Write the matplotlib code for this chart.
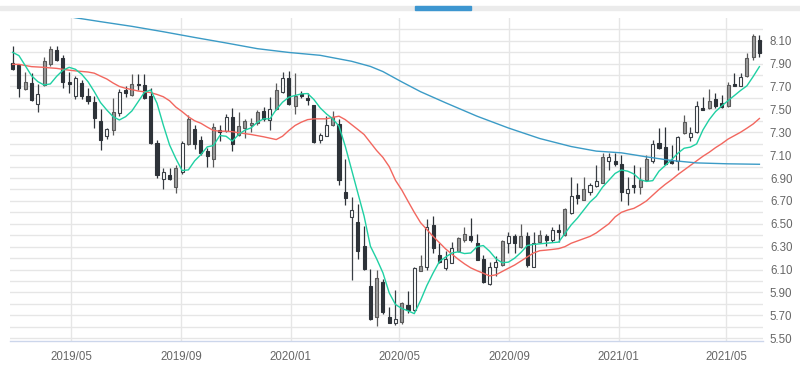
import matplotlib
matplotlib.use('Agg')
import matplotlib.pyplot as plt
import matplotlib.dates as mdates
from matplotlib.patches import Rectangle
from matplotlib.ticker import FuncFormatter
import numpy as np
import pandas as pd

plt.rcParams['font.family'] = ['Liberation Sans', 'DejaVu Sans']

# Weekly candles, first week starting 2019-02-25
first_week = '2019-02-25'

opens = [7.905, 7.89, 7.675, 7.73, 7.545, 7.71, 7.90, 8.015, 7.945, 7.74,
         7.615, 7.73, 7.615, 7.56, 7.40, 7.27, 7.32, 7.465, 7.67, 7.625,
         7.725, 7.715, 7.62, 7.205, 6.89, 6.925, 6.825, 6.95, 7.195, 7.33,
         7.235, 7.14, 7.065, 7.32, 7.31, 7.435, 7.28, 7.34, 7.365, 7.38,
         7.485, 7.41, 7.505, 7.65, 7.77, 7.525, 7.635, 7.60, 7.535, 7.23,
         7.27, 7.36, 7.375, 6.775, 6.56, 6.515, 6.305, 5.96, 5.69, 5.99,
         5.69, 5.63, 5.645, 5.79, 5.75, 6.085, 6.12, 6.49, 6.23, 6.11,
         6.16, 6.265, 6.355, 6.39, 6.33, 6.19, 5.975, 6.12, 6.14, 6.335,
         6.395, 6.295, 6.395, 6.12, 6.345, 6.395, 6.355, 6.445, 6.405, 6.59,
         6.75, 6.71, 6.78, 6.83, 6.86, 7.045, 7.045, 7.02, 6.77, 6.835,
         6.825, 6.885, 7.045, 7.21, 7.17, 7.05, 7.045, 7.295, 7.26, 7.305,
         7.51, 7.51, 7.59, 7.555, 7.525, 7.725, 7.705, 7.79, 7.955, 8.105]
highs = [8.05, 7.90, 7.83, 7.815, 7.72, 7.96, 8.05, 8.05, 7.975, 7.83,
         7.79, 7.755, 7.685, 7.615, 7.50, 7.34, 7.595, 7.675, 7.70, 7.805,
         7.805, 7.805, 7.685, 7.23, 6.99, 6.99, 7.015, 7.225, 7.45, 7.36,
         7.27, 7.165, 7.38, 7.365, 7.455, 7.51, 7.475, 7.415, 7.425, 7.49,
         7.52, 7.61, 7.73, 7.825, 7.835, 7.82, 7.66, 7.645, 7.54, 7.29,
         7.44, 7.485, 7.415, 7.065, 6.735, 6.67, 6.48, 6.105, 6.095, 6.015,
         5.775, 5.925, 5.82, 5.91, 6.12, 6.23, 6.54, 6.57, 6.335, 6.265,
         6.345, 6.385, 6.475, 6.55, 6.41, 6.23, 6.17, 6.215, 6.36, 6.425,
         6.41, 6.50, 6.425, 6.43, 6.45, 6.41, 6.475, 6.50, 6.635, 6.905,
         6.855, 6.91, 6.86, 7.01, 7.12, 7.12, 7.12, 7.10, 6.91, 7.01,
         7.00, 7.10, 7.23, 7.335, 7.35, 7.19, 7.265, 7.45, 7.35, 7.575,
         7.61, 7.675, 7.64, 7.625, 7.735, 7.82, 7.815, 7.995, 8.16, 8.15]
lows = [7.84, 7.61, 7.67, 7.57, 7.48, 7.705, 7.88, 7.925, 7.685, 7.64,
        7.59, 7.59, 7.545, 7.335, 7.145, 7.245, 7.275, 7.44, 7.61, 7.615,
        7.67, 7.59, 7.20, 6.90, 6.805, 6.88, 6.765, 6.935, 7.19, 7.15,
        7.10, 7.00, 7.00, 7.22, 7.30, 7.135, 7.27, 7.25, 7.30, 7.365,
        7.395, 7.32, 7.49, 7.64, 7.54, 7.46, 7.60, 7.54, 7.21, 7.21,
        7.265, 7.355, 6.835, 6.665, 6.01, 6.19, 6.10, 5.66, 5.61, 5.715,
        5.63, 5.62, 5.625, 5.725, 5.74, 6.085, 6.10, 6.245, 6.16, 6.10,
        6.155, 6.255, 6.345, 6.345, 6.18, 5.98, 5.965, 6.04, 6.135, 6.245,
        6.245, 6.285, 6.125, 6.12, 6.33, 6.305, 6.345, 6.345, 6.395, 6.585,
        6.675, 6.71, 6.75, 6.825, 6.855, 6.97, 7.005, 6.70, 6.66, 6.765,
        6.76, 6.875, 7.035, 7.15, 7.015, 7.02, 6.97, 7.285, 7.225, 7.295,
        7.49, 7.50, 7.515, 7.51, 7.52, 7.705, 7.70, 7.78, 7.935, 7.96]
closes = [7.85, 7.69, 7.74, 7.58, 7.635, 7.92, 8.025, 7.93, 7.74, 7.725,
          7.77, 7.62, 7.575, 7.42, 7.23, 7.325, 7.48, 7.655, 7.645, 7.725,
          7.71, 7.595, 7.205, 6.925, 6.95, 6.89, 6.99, 7.21, 7.415, 7.20,
          7.115, 7.09, 7.345, 7.305, 7.435, 7.195, 7.355, 7.395, 7.38, 7.475,
          7.415, 7.505, 7.665, 7.775, 7.55, 7.615, 7.615, 7.585, 7.215, 7.28,
          7.36, 7.435, 6.88, 6.725, 6.62, 6.26, 6.105, 5.665, 6.03, 5.73,
          5.635, 5.665, 5.81, 5.75, 6.11, 6.13, 6.475, 6.285, 6.17, 6.19,
          6.285, 6.375, 6.41, 6.355, 6.185, 5.995, 6.12, 6.17, 6.35, 6.395,
          6.335, 6.395, 6.14, 6.33, 6.405, 6.355, 6.45, 6.425, 6.625, 6.74,
          6.725, 6.80, 6.84, 6.87, 7.085, 7.08, 7.025, 6.78, 6.80, 6.82,
          6.885, 7.065, 7.195, 7.16, 7.025, 7.03, 7.26, 7.39, 7.29, 7.53,
          7.49, 7.575, 7.525, 7.52, 7.715, 7.705, 7.785, 7.945, 8.14, 7.99]

# rising weeks drawn hollow (1-based week numbers); other rising weeks are grey
hollow_weeks = [5, 11, 16, 18, 25, 28, 35, 42, 44, 50, 51, 55, 62, 65, 67, 70,
                71, 77, 78, 80, 84, 87, 90, 93, 94, 96, 99, 103, 107, 109, 110, 117]

# moving averages
ma_short = [7.998, 7.969, 7.882, 7.794, 7.742, 7.713, 7.722, 7.788, 7.841, 7.867,
            7.85, 7.806, 7.742, 7.655, 7.559, 7.494, 7.436, 7.407, 7.436, 7.486,
            7.567, 7.649, 7.669, 7.553, 7.363, 7.189, 7.07, 6.965, 6.971, 7.05,
            7.105, 7.172, 7.184, 7.271, 7.265, 7.222, 7.28, 7.318, 7.338, 7.388,
            7.417, 7.417, 7.498, 7.562, 7.606, 7.621, 7.635, 7.638, 7.586, 7.513,
            7.46, 7.417, 7.353, 7.178, 6.974, 6.77, 6.567, 6.305, 6.194, 6.072,
            5.897, 5.795, 5.76, 5.74, 5.715, 5.83, 5.96, 6.07, 6.17, 6.21,
            6.245, 6.255, 6.24, 6.245, 6.30, 6.31, 6.26, 6.195, 6.16, 6.165,
            6.20, 6.25, 6.31, 6.32, 6.325, 6.33, 6.335, 6.34, 6.415, 6.49,
            6.55, 6.62, 6.69, 6.74, 6.82, 6.88, 6.94, 6.97, 6.96, 6.935,
            6.885, 6.87, 6.877, 6.96, 7.01, 7.06, 7.116, 7.16, 7.17, 7.198,
            7.32, 7.41, 7.48, 7.53, 7.576, 7.62, 7.665, 7.705, 7.786, 7.873]
ma_mid = [7.893, 7.893, 7.883, 7.873, 7.87, 7.867, 7.862, 7.858, 7.85, 7.842,
          7.836, 7.831, 7.826, 7.816, 7.79, 7.765, 7.73, 7.70, 7.684, 7.672,
          7.66, 7.653, 7.646, 7.63, 7.61, 7.575, 7.52, 7.48, 7.435, 7.40,
          7.378, 7.345, 7.315, 7.309, 7.309, 7.305, 7.295, 7.288, 7.28, 7.27,
          7.26, 7.248, 7.236, 7.265, 7.315, 7.359, 7.388, 7.41, 7.417, 7.417,
          7.417, 7.43, 7.44, 7.41, 7.367, 7.324, 7.28, 7.21, 7.14, 7.08,
          7.00, 6.88, 6.796, 6.697, 6.60, 6.51, 6.45, 6.39, 6.335, 6.28,
          6.235, 6.19, 6.15, 6.115, 6.09, 6.068, 6.045, 6.054, 6.083, 6.112,
          6.14, 6.175, 6.21, 6.245, 6.265, 6.27, 6.276, 6.283, 6.30, 6.33,
          6.35, 6.37, 6.39, 6.42, 6.46, 6.50, 6.56, 6.60, 6.62, 6.635,
          6.665, 6.70, 6.75, 6.80, 6.845, 6.885, 6.93, 6.97, 7.01, 7.05,
          7.09, 7.125, 7.165, 7.20, 7.24, 7.27, 7.30, 7.335, 7.372, 7.42]
ma_long_weeks = [9, 11, 15, 20, 25, 30, 35, 40, 45, 50, 55, 58, 60, 62, 63, 66,
                 70, 75, 80, 85, 90, 94, 98, 102, 106, 110, 115, 120]
ma_long = [8.32, 8.30, 8.266, 8.225, 8.178, 8.128, 8.08, 8.03, 7.997, 7.972,
           7.92, 7.875, 7.83, 7.77, 7.74, 7.654, 7.557, 7.44, 7.337, 7.245,
           7.175, 7.135, 7.12, 7.085, 7.053, 7.032, 7.024, 7.02]

month_ticks = ['2019-05-01', '2019-09-01', '2020-01-01', '2020-05-01',
               '2020-09-01', '2021-01-01', '2021-05-01']
price_grid = [5.5, 5.6, 5.7, 5.8, 5.9, 6.0, 6.1, 6.2, 6.3, 6.4, 6.5, 6.6, 6.7,
              6.8, 6.9, 7.0, 7.1, 7.2, 7.3, 7.4, 7.5, 7.6, 7.7, 7.8, 7.9, 8.0,
              8.1, 8.2]

# colours
DARK = '#2e3339'
GREY = '#9a9a9a'
GREY_EDGE = '#5a5a5a'
TEAL = '#1fd0a3'
RED = '#f2675f'
BLUE = '#3b9bc6'
GRID = '#e6e6e6'
LABEL = '#666666'

dates = pd.date_range(first_week, periods=len(closes), freq='7D')
x = mdates.date2num(dates)

fig = plt.figure(figsize=(8, 3.7), dpi=100)
ax = fig.add_axes([10 / 800, 29 / 370, 753 / 800, 323 / 370])

faces, edges = [], []
for i, (o, c) in enumerate(zip(opens, closes)):
    if c < o:
        faces.append(DARK)
        edges.append(DARK)
    elif (i + 1) in hollow_weeks:
        faces.append('white')
        edges.append('#3a3f45')
    else:
        faces.append(GREY)
        edges.append(GREY_EDGE)

o_arr = np.array(opens)
c_arr = np.array(closes)
bottoms = np.minimum(o_arr, c_arr)
heights = np.maximum(np.abs(c_arr - o_arr), 0.006)

ax.vlines(x, lows, highs, colors=edges, linewidth=0.9, zorder=2)
ax.bar(x, heights, bottom=bottoms, width=3.4, color=faces,
       edgecolor=edges, linewidth=0.8, zorder=3)

# moving averages
ax.plot(x, ma_mid, color=RED, linewidth=1.0, zorder=4)
ax.plot(x, ma_short, color=TEAL, linewidth=1.0, zorder=4)
ax.plot(x[np.array(ma_long_weeks) - 1], ma_long, color=BLUE, linewidth=1.0, zorder=4)

# axes
ax.set_xlim(mdates.date2num(pd.Timestamp('2019-02-22')),
            mdates.date2num(pd.Timestamp('2021-06-11')))
ax.set_ylim(5.476, 8.298)

ax.set_xticks(mdates.date2num(pd.to_datetime(month_ticks)))
ax.xaxis.set_major_formatter(mdates.DateFormatter('%Y/%m'))
ax.set_yticks(price_grid)
ax.yaxis.set_major_formatter(FuncFormatter(
    lambda v, p: f'{v:.2f}' if int(round(v * 10)) % 2 == 1 else ''))
ax.yaxis.tick_right()

ax.grid(True, color=GRID, linewidth=1.0)
ax.set_axisbelow(True)
ax.tick_params(axis='both', length=0, labelsize=8.3, labelcolor=LABEL)
ax.tick_params(axis='x', pad=7)
ax.tick_params(axis='y', pad=5)

for s in ['top', 'right', 'left']:
    ax.spines[s].set_visible(False)
ax.spines['bottom'].set_color('#ccd6eb')
ax.spines['bottom'].set_linewidth(1.0)

# top strip with the blue marker
fig.patches.append(Rectangle((0, 1 - 9.5 / 370), 1, 3.3 / 370,
                             transform=fig.transFigure, color='#ebebeb', zorder=0))
fig.patches.append(Rectangle((415 / 800, 1 - 9.5 / 370), 56 / 800, 3.3 / 370,
                             transform=fig.transFigure, color='#3d96d0', zorder=1))

fig.savefig('out.png', dpi=100)
plt.close(fig)
